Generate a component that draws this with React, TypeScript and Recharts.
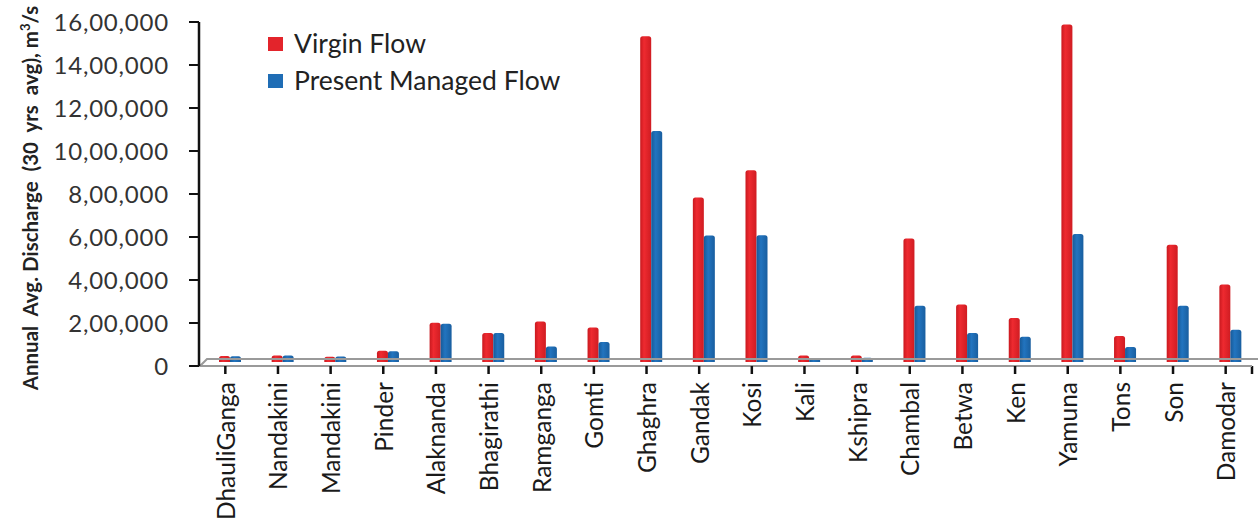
import { Bar, BarChart, Legend, ReferenceLine, XAxis, YAxis } from "recharts";

const rivers = [
  "DhauliGanga",
  "Nandakini",
  "Mandakini",
  "Pinder",
  "Alaknanda",
  "Bhagirathi",
  "Ramganga",
  "Gomti",
  "Ghaghra",
  "Gandak",
  "Kosi",
  "Kali",
  "Kshipra",
  "Chambal",
  "Betwa",
  "Ken",
  "Yamuna",
  "Tons",
  "Son",
  "Damodar",
];

// m3/s, 30 yrs average
const virginFlow = [
  28000, 30000, 25000, 52000, 182000, 135000, 188000, 160000, 1515000, 765000,
  892000, 30000, 30000, 575000, 268000, 205000, 1570000, 121000, 545000, 360000,
];
const managedFlow = [
  27000, 30000, 26000, 50000, 178000, 135000, 72000, 93000, 1075000, 588000,
  590000, 18000, 20000, 262000, 135000, 118000, 595000, 70000, 262000, 150000,
];

const yTicks = [0, 200000, 400000, 600000, 800000, 1000000, 1200000, 1400000, 1600000];

const chartData = rivers.map((river, i) => ({
  river,
  virgin: virginFlow[i],
  managed: managedFlow[i],
}));

const RED = "#e3242b";
const BLUE = "#1f6db5";
const FONT = "Lato, 'Open Sans', sans-serif";
// the original is a 3D column chart: columns sit a little back and to the right
const DEPTH_X = 5;
const DEPTH_Y = 4;

// Indian digit grouping: 16,00,000
function lakh(v: number) {
  const s = String(Math.round(v));
  if (s.length <= 3) return s;
  const last3 = s.slice(-3);
  let rest = s.slice(0, -3);
  const parts: string[] = [];
  while (rest.length > 2) {
    parts.unshift(rest.slice(-2));
    rest = rest.slice(0, -2);
  }
  if (rest) parts.unshift(rest);
  return parts.join(",") + "," + last3;
}

function Column(props: any) {
  const { x, y, width, height, gradient } = props;
  if (!height || height <= 0) return null;
  const r = Math.min(2.5, width / 2);
  const top = y - DEPTH_Y;
  const left = x + DEPTH_X;
  const d = `M${left},${top + height} L${left},${top + r} Q${left},${top} ${left + r},${top} L${left + width - r},${top} Q${left + width},${top} ${left + width},${top + r} L${left + width},${top + height} Z`;
  return <path d={d} fill={`url(#${gradient})`} />;
}

function RiverTick({ x, y, payload }: any) {
  return (
    <text
      x={x}
      y={y}
      transform={`rotate(-90 ${x} ${y})`}
      textAnchor="end"
      dominantBaseline="central"
      fontFamily={FONT}
      fontSize={24.5}
      fill="#1a1a1a"
    >
      {payload.value}
    </text>
  );
}

// back edge of the 3D floor plus the closing tick at the end of the category axis
function Floor({ x1, y1, x2, y2 }: any) {
  if (x1 == null) return null;
  return (
    <g>
      <path
        d={`M${x1 + 1},${y1} L${x1 + 8},${y1 - 7} L${x2 + 6},${y2 - 7}`}
        fill="none"
        stroke="#9a9a9a"
        strokeWidth={2}
      />
      <line x1={x2} y1={y2} x2={x2} y2={y2 + 8} stroke="#111" strokeWidth={2.5} />
    </g>
  );
}

function LegendBox() {
  const items = [
    { label: "Virgin Flow", color: RED },
    { label: "Present Managed Flow", color: BLUE },
  ];
  return (
    <div style={{ fontFamily: FONT, fontSize: 26.5, color: "#222", lineHeight: 1 }}>
      {items.map((item) => (
        <div key={item.label} style={{ display: "flex", alignItems: "center", height: 37 }}>
          <span style={{ width: 15, height: 14, background: item.color, marginRight: 11, display: "inline-block" }} />
          <span>{item.label}</span>
        </div>
      ))}
    </div>
  );
}

export default function App() {
  return (
    <div style={{ position: "absolute", left: 0, top: 0, width: 1258, height: 525, background: "#fff" }}>
      <BarChart
        width={1258}
        height={525}
        data={chartData}
        margin={{ top: 22, right: 6, bottom: 0, left: 0 }}
        barSize={11}
        barGap={0}
      >
        <defs>
          <linearGradient id="redCol" x1="0" y1="0" x2="1" y2="0">
            <stop offset="0%" stopColor="#c9191f" />
            <stop offset="35%" stopColor="#ee2a30" />
            <stop offset="100%" stopColor="#d01c22" />
          </linearGradient>
          <linearGradient id="blueCol" x1="0" y1="0" x2="1" y2="0">
            <stop offset="0%" stopColor="#175a98" />
            <stop offset="40%" stopColor="#2274bf" />
            <stop offset="100%" stopColor="#195e9f" />
          </linearGradient>
        </defs>
        <XAxis
          dataKey="river"
          interval={0}
          height={159}
          tickSize={8}
          tickMargin={8}
          tick={<RiverTick />}
          tickLine={{ stroke: "#111", strokeWidth: 2.5 }}
          axisLine={{ stroke: "#9a9a9a", strokeWidth: 2 }}
        />
        <YAxis
          width={199}
          domain={[0, 1600000]}
          ticks={yTicks}
          tickFormatter={lakh}
          tickSize={10}
          tickMargin={20}
          tick={{ fill: "#333", fontSize: 24, fontFamily: FONT, letterSpacing: 0.8 }}
          tickLine={{ stroke: "#111", strokeWidth: 2 }}
          axisLine={{ stroke: "#111", strokeWidth: 2.5 }}
          label={{
            content: () => (
              <text
                x={38}
                y={198}
                transform="rotate(-90 38 198)"
                textAnchor="middle"
                fontFamily={FONT}
                fontWeight={700}
                fontSize={20.5}
                fill="#222"
                style={{ whiteSpace: "pre" }}
              >
                {"Annual  Avg. Discharge  (30  yrs  avg), m"}
                <tspan fontSize={13} dy={-8}>3</tspan>
                <tspan dy={8}>/s</tspan>
              </text>
            ),
          }}
        />
        <ReferenceLine y={0} shape={<Floor />} />
        <Legend
          verticalAlign="middle"
          align="center"
          layout="vertical"
          content={<LegendBox />}
          wrapperStyle={{ left: 268, top: 25, width: "auto", transform: "none" }}
        />
        <Bar dataKey="virgin" name="Virgin Flow" fill={RED} shape={<Column gradient="redCol" />} isAnimationActive={false} />
        <Bar dataKey="managed" name="Present Managed Flow" fill={BLUE} shape={<Column gradient="blueCol" />} isAnimationActive={false} />
      </BarChart>
    </div>
  );
}
